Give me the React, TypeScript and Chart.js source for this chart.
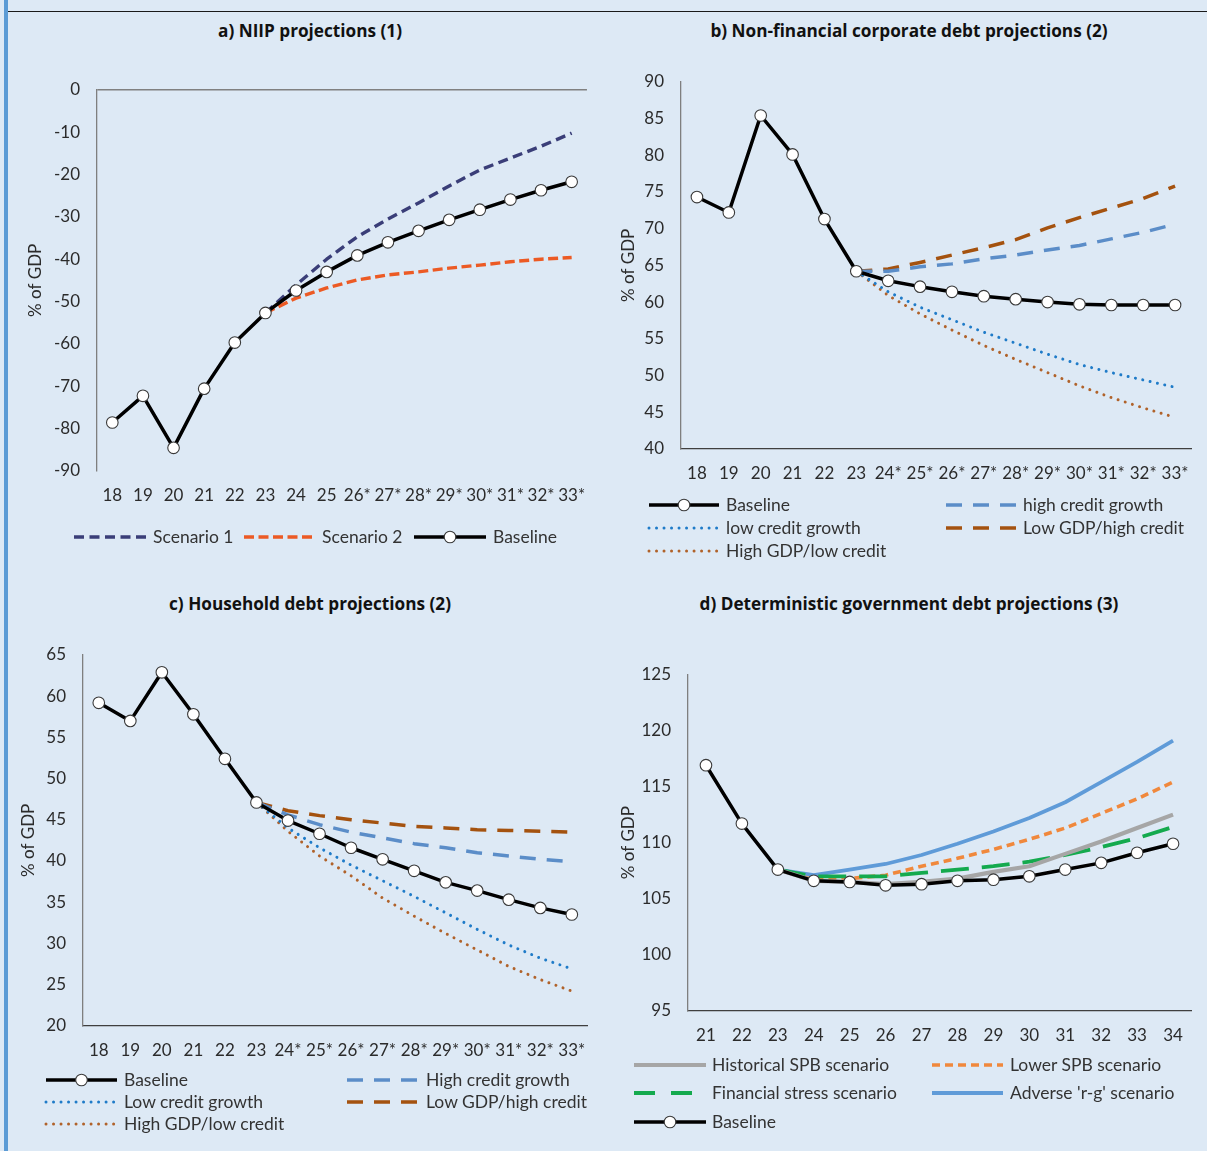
import React, { useEffect, useRef } from "react";
import { Chart, registerables } from "chart.js";
Chart.register(...registerables);

const FONT = "Lato, 'Open Sans', sans-serif";
const TITLE_FONT = "'Open Sans', Lato, sans-serif";
const N = null;

// ---------- Panel a) NIIP projections ----------
const catsA = ["18", "19", "20", "21", "22", "23", "24", "25", "26*", "27*", "28*", "29*", "30*", "31*", "32*", "33*"];
const baseA = [-78.6, -72.3, -84.6, -70.6, -59.7, -52.7, -47.4, -43.0, -39.1, -36.0, -33.3, -30.7, -28.3, -25.9, -23.7, -21.7];
const scen1A = [N, N, N, N, N, -52.7, -46.1, -40.0, -34.7, -30.5, -26.7, -22.7, -18.9, -16.1, -13.3, -10.2];
const scen2A = [N, N, N, N, N, -52.7, -49.2, -46.8, -44.9, -43.7, -43.0, -42.1, -41.4, -40.6, -40.0, -39.6];

// ---------- Panel b) NFC debt ----------
const catsB = ["18", "19", "20", "21", "22", "23", "24*", "25*", "26*", "27*", "28*", "29*", "30*", "31*", "32*", "33*"];
const baseB = [74.3, 72.2, 85.4, 80.1, 71.3, 64.2, 62.9, 62.1, 61.4, 60.8, 60.4, 60.0, 59.7, 59.6, 59.6, 59.6];
const highCreditB = [N, N, N, N, N, 64.2, 64.2, 64.8, 65.2, 65.9, 66.4, 67.1, 67.7, 68.6, 69.5, 70.6];
const lowGdpHighCreditB = [N, N, N, N, N, 64.2, 64.5, 65.4, 66.4, 67.4, 68.5, 70.1, 71.5, 72.8, 74.1, 75.8];
const lowCreditB = [N, N, N, N, N, 64.2, 61.4, 59.3, 57.6, 55.9, 54.4, 52.9, 51.5, 50.4, 49.4, 48.4];
const highGdpLowCreditB = [N, N, N, N, N, 64.2, 60.9, 58.4, 56.2, 54.1, 52.2, 50.4, 48.6, 47.0, 45.6, 44.3];

// ---------- Panel c) Household debt ----------
const catsC = catsB;
const baseC = [59.2, 57.0, 62.9, 57.8, 52.4, 47.1, 44.9, 43.3, 41.6, 40.2, 38.8, 37.4, 36.4, 35.3, 34.3, 33.5];
const highCreditC = [N, N, N, N, N, 47.1, 45.6, 44.4, 43.5, 42.8, 42.1, 41.6, 41.0, 40.6, 40.2, 39.9];
const lowGdpHighCreditC = [N, N, N, N, N, 47.1, 46.1, 45.5, 45.0, 44.6, 44.2, 44.0, 43.8, 43.7, 43.6, 43.5];
const lowCreditC = [N, N, N, N, N, 47.1, 44.0, 41.6, 39.5, 37.6, 35.7, 33.7, 31.7, 29.8, 28.2, 26.9];
const highGdpLowCreditC = [N, N, N, N, N, 47.1, 43.6, 40.6, 38.2, 35.5, 33.3, 31.2, 29.2, 27.2, 25.6, 24.2];

// ---------- Panel d) Government debt ----------
const catsD = ["21", "22", "23", "24", "25", "26", "27", "28", "29", "30", "31", "32", "33", "34"];
const baseD = [116.9, 111.7, 107.6, 106.6, 106.5, 106.2, 106.3, 106.6, 106.7, 107.0, 107.6, 108.2, 109.1, 109.9];
const histSpbD = [N, N, 107.6, 106.6, 106.5, 106.3, 106.5, 106.8, 107.4, 107.9, 109.0, 110.1, 111.3, 112.5];
const lowerSpbD = [N, N, 107.6, 106.7, 106.8, 107.1, 107.9, 108.6, 109.4, 110.3, 111.3, 112.6, 113.9, 115.4];
const finStressD = [N, N, 107.6, 107.0, 107.0, 107.0, 107.3, 107.6, 107.9, 108.3, 108.9, 109.6, 110.4, 111.4];
const adverseRgD = [N, N, 107.6, 107.1, 107.6, 108.1, 108.9, 109.9, 111.0, 112.2, 113.6, 115.4, 117.2, 119.1];

// ---------- styles ----------
type Style = { color: string; width: number; dash?: number[]; cap?: "butt" | "round"; marker?: boolean };
const BASELINE: Style = { color: "#000000", width: 3.5, marker: true };
const NAVY_DASH: Style = { color: "#3a3e78", width: 3.4, dash: [10, 5.5] };
const RED_DASH: Style = { color: "#ec5a24", width: 3.4, dash: [10, 4.5] };
const BLUE_LDASH: Style = { color: "#5b8dc8", width: 3.5, dash: [16, 11] };
const BROWN_LDASH: Style = { color: "#a4520f", width: 3.5, dash: [16, 11] };
const BLUE_DOT: Style = { color: "#1f7bc8", width: 3, dash: [0.01, 7.5], cap: "round" };
const BROWN_DOT: Style = { color: "#b0622a", width: 3, dash: [0.01, 7.5], cap: "round" };
const GRAY: Style = { color: "#a6a6a6", width: 4.2 };
const ORANGE_DASH: Style = { color: "#f0883c", width: 3.6, dash: [8, 5] };
const GREEN_DASH: Style = { color: "#14aa4e", width: 3.8, dash: [28, 13] };
const LBLUE: Style = { color: "#5f9bd8", width: 3.8 };

type Series = { label: string; data: (number | null)[]; style: Style };

type PanelProps = {
  canvas: [number, number, number, number];
  area: [number, number, number, number];
  cats: string[];
  series: Series[];
  yMin: number;
  yMax: number;
  step: number;
  topLine?: boolean;
  titlePad: number;
};

function Panel(p: PanelProps) {
  const ref = useRef<HTMLCanvasElement>(null);
  useEffect(() => {
    const [cx, cy, cw, ch] = p.canvas;
    const [L, T, R, B] = p.area;
    const xH = 40;
    const chart = new Chart(ref.current as HTMLCanvasElement, {
      type: "line",
      data: {
        labels: p.cats,
        datasets: p.series.map((s) => ({
          label: s.label,
          data: s.data,
          borderColor: s.style.color,
          backgroundColor: s.style.color,
          borderWidth: s.style.width,
          borderDash: s.style.dash || [],
          borderCapStyle: s.style.cap || "butt",
          borderJoinStyle: "round",
          pointRadius: s.style.marker ? 5.8 : 0,
          pointHoverRadius: s.style.marker ? 5.8 : 0,
          pointBackgroundColor: "#ffffff",
          pointBorderColor: "#3a3a3a",
          pointBorderWidth: 1.1,
          tension: 0,
          fill: false,
          spanGaps: false,
        })) as any,
      },
      options: {
        responsive: false,
        maintainAspectRatio: false,
        animation: false,
        events: [],
        layout: { padding: { left: 0, top: T - cy, right: cx + cw - R, bottom: cy + ch - B - xH } },
        plugins: { legend: { display: false }, tooltip: { enabled: false }, title: { display: false } },
        scales: {
          x: {
            type: "category",
            offset: true,
            grid: { display: false, drawTicks: false },
            border: { display: !p.topLine, color: "#3f3f3f", width: 1.3 },
            ticks: {
              padding: 14.5,
              color: "#2b2b2b",
              font: { family: FONT, size: 17 },
              maxRotation: 0,
              minRotation: 0,
              autoSkip: false,
            },
            afterFit: (s: any) => {
              s.height = xH;
            },
          },
          y: {
            min: p.yMin,
            max: p.yMax,
            grid: {
              display: !!p.topLine,
              drawTicks: false,
              lineWidth: 1.4,
              color: (c: any) => (c.tick && c.tick.value === p.yMax ? "#808080" : "rgba(0,0,0,0)"),
            },
            border: { display: true, color: "#7f7f7f", width: 1.3 },
            ticks: {
              stepSize: p.step,
              padding: 17,
              color: "#2b2b2b",
              font: { family: FONT, size: 17 },
            },
            title: {
              display: true,
              text: "% of GDP",
              color: "#2b2b2b",
              font: { family: FONT, size: 17 },
              padding: { top: p.titlePad, bottom: 0 },
            },
            afterFit: (s: any) => {
              s.width = L - cx;
            },
          },
        },
      } as any,
    });
    return () => chart.destroy();
  }, []);
  const [cx, cy, cw, ch] = p.canvas;
  return (
    <canvas
      ref={ref}
      width={cw}
      height={ch}
      style={{ position: "absolute", left: cx, top: cy, width: cw, height: ch }}
    />
  );
}

type LegendProps = { x1: number; x2: number; tx: number; y: number; label: string; style: Style };

function LegendItem({ x1, x2, tx, y, label, style }: LegendProps) {
  const w = x2 - x1;
  return (
    <>
      <svg
        width={w}
        height={16}
        style={{ position: "absolute", left: x1, top: y - 8, overflow: "visible" }}
      >
        <line
          x1={0}
          y1={8}
          x2={w}
          y2={8}
          stroke={style.color}
          strokeWidth={style.width}
          strokeDasharray={style.dash ? style.dash.join(" ") : undefined}
          strokeLinecap={style.cap || "butt"}
        />
        {style.marker ? <circle cx={w / 2} cy={8} r={5.8} fill="#ffffff" stroke="#3a3a3a" strokeWidth={1.1} /> : null}
      </svg>
      <div
        style={{
          position: "absolute",
          left: tx,
          top: y - 11,
          height: 22,
          lineHeight: "22px",
          fontFamily: FONT,
          fontSize: 17.5,
          color: "#333333",
          whiteSpace: "nowrap",
        }}
      >
        {label}
      </div>
    </>
  );
}

function Title({ cx, y, text }: { cx: number; y: number; text: string }) {
  return (
    <div
      style={{
        position: "absolute",
        left: cx - 300,
        width: 600,
        top: y - 12,
        height: 24,
        lineHeight: "24px",
        textAlign: "center",
        fontFamily: TITLE_FONT,
        fontWeight: 700,
        fontSize: 17.2,
        color: "#111111",
        whiteSpace: "nowrap",
      }}
    >
      {text}
    </div>
  );
}

export default function App() {
  return (
    <div
      style={{
        position: "absolute",
        left: 0,
        top: 0,
        width: 1207,
        height: 1151,
        background: "#dde9f5",
        overflow: "hidden",
      }}
    >
      <div style={{ position: "absolute", left: 4, top: 0, width: 4, height: 1151, background: "#5b9bd5" }} />
      <div style={{ position: "absolute", left: 8, top: 10.5, width: 1199, height: 1.2, background: "#1a1a1a" }} />

      <Title cx={310} y={31} text="a) NIIP projections (1)" />
      <Title cx={909} y={31} text="b) Non-financial corporate debt projections (2)" />
      <Title cx={310} y={604} text="c) Household debt projections (2)" />
      <Title cx={909} y={604} text="d) Deterministic government debt projections (3)" />

      <Panel
        canvas={[0, 50, 600, 480]}
        area={[97, 90, 588, 470.7]}
        cats={catsA}
        yMin={-90}
        yMax={0}
        step={10}
        topLine
        titlePad={25}
        series={[
          { label: "Baseline", data: baseA, style: BASELINE },
          { label: "Scenario 1", data: scen1A, style: NAVY_DASH },
          { label: "Scenario 2", data: scen2A, style: RED_DASH },
        ]}
      />
      <Panel
        canvas={[600, 50, 607, 460]}
        area={[681, 81.7, 1191, 449]}
        cats={catsB}
        yMin={40}
        yMax={90}
        step={5}
        titlePad={18.5}
        series={[
          { label: "Baseline", data: baseB, style: BASELINE },
          { label: "high credit growth", data: highCreditB, style: BLUE_LDASH },
          { label: "Low GDP/high credit", data: lowGdpHighCreditB, style: BROWN_LDASH },
          { label: "low credit growth", data: lowCreditB, style: BLUE_DOT },
          { label: "High GDP/low credit", data: highGdpLowCreditB, style: BROWN_DOT },
        ]}
      />
      <Panel
        canvas={[0, 625, 600, 460]}
        area={[83, 655, 595, 1025.7]}
        cats={catsC}
        yMin={20}
        yMax={65}
        step={5}
        titlePad={18}
        series={[
          { label: "Baseline", data: baseC, style: BASELINE },
          { label: "High credit growth", data: highCreditC, style: BLUE_LDASH },
          { label: "Low GDP/high credit", data: lowGdpHighCreditC, style: BROWN_LDASH },
          { label: "Low credit growth", data: lowCreditC, style: BLUE_DOT },
          { label: "High GDP/low credit", data: highGdpLowCreditC, style: BROWN_DOT },
        ]}
      />
      <Panel
        canvas={[600, 640, 607, 440]}
        area={[688, 674.3, 1191, 1011]}
        cats={catsD}
        yMin={95}
        yMax={125}
        step={5}
        titlePad={18.5}
        series={[
          { label: "Baseline", data: baseD, style: BASELINE },
          { label: "Historical SPB scenario", data: histSpbD, style: GRAY },
          { label: "Financial stress scenario", data: finStressD, style: GREEN_DASH },
          { label: "Lower SPB scenario", data: lowerSpbD, style: ORANGE_DASH },
          { label: "Adverse 'r-g' scenario", data: adverseRgD, style: LBLUE },
        ]}
      />

      {/* Legend a */}
      <LegendItem x1={74} x2={146} tx={153} y={537} label="Scenario 1" style={NAVY_DASH} />
      <LegendItem x1={244} x2={316} tx={322} y={537} label="Scenario 2" style={RED_DASH} />
      <LegendItem x1={414} x2={486} tx={493} y={537} label="Baseline" style={BASELINE} />

      {/* Legend b */}
      <LegendItem x1={649} x2={719} tx={726} y={505} label="Baseline" style={BASELINE} />
      <LegendItem x1={946} x2={1017} tx={1023} y={505} label="high credit growth" style={BLUE_LDASH} />
      <LegendItem x1={649} x2={719} tx={726} y={528} label="low credit growth" style={BLUE_DOT} />
      <LegendItem x1={946} x2={1017} tx={1023} y={528} label="Low GDP/high credit" style={BROWN_LDASH} />
      <LegendItem x1={649} x2={719} tx={726} y={551} label="High GDP/low credit" style={BROWN_DOT} />

      {/* Legend c */}
      <LegendItem x1={46} x2={117} tx={124} y={1080} label="Baseline" style={BASELINE} />
      <LegendItem x1={347} x2={419} tx={426} y={1080} label="High credit growth" style={BLUE_LDASH} />
      <LegendItem x1={46} x2={117} tx={124} y={1102} label="Low credit growth" style={BLUE_DOT} />
      <LegendItem x1={347} x2={419} tx={426} y={1102} label="Low GDP/high credit" style={BROWN_LDASH} />
      <LegendItem x1={46} x2={117} tx={124} y={1124} label="High GDP/low credit" style={BROWN_DOT} />

      {/* Legend d */}
      <LegendItem x1={634} x2={706} tx={712} y={1065} label="Historical SPB scenario" style={GRAY} />
      <LegendItem x1={932} x2={1003} tx={1010} y={1065} label="Lower SPB scenario" style={ORANGE_DASH} />
      <LegendItem x1={634} x2={706} tx={712} y={1093} label="Financial stress scenario" style={{ ...GREEN_DASH, dash: [21, 16] }} />
      <LegendItem x1={932} x2={1003} tx={1010} y={1093} label="Adverse 'r-g' scenario" style={LBLUE} />
      <LegendItem x1={634} x2={706} tx={712} y={1122} label="Baseline" style={BASELINE} />
    </div>
  );
}
